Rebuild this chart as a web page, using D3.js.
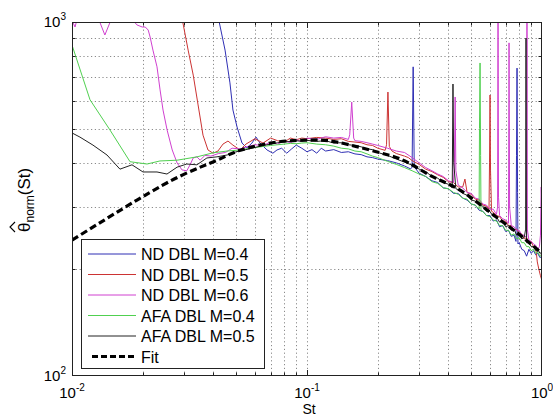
<!DOCTYPE html>
<html>
<head>
<meta charset="utf-8">
<script src="https://cdn.jsdelivr.net/npm/d3@7"></script>
<style>
html, body { margin: 0; padding: 0; background: #fff; }
svg { display: block; font-family: "Liberation Sans", Arial, sans-serif; }
</style>
</head>
<body>
<div id="chart"></div>
<script>
// ===== data =====
const stDomain = [0.01, 1];
const valDomain = [100, 1000];
const xMajor = [0.01, 0.1, 1];
const xMajorLabels = [["10", "-2"], ["10", "-1"], ["10", "0"]];
const yMajor = [100, 1000];
const yMajorLabels = [["10", "2"], ["10", "3"]];
const legendLabels = ["ND DBL M=0.4", "ND DBL M=0.5", "ND DBL M=0.6", "AFA DBL M=0.4", "AFA DBL M=0.5", "Fit"];

// [St, theta_norm]
const ndM04 = [
  [0.0410, 1150], [0.0423, 1000], [0.0448, 833], [0.0470, 673], [0.0484, 564], [0.0504, 505],
  [0.0529, 455], [0.0555, 441], [0.0583, 455], [0.0607, 473], [0.0631, 455], [0.0676, 435],
  [0.0716, 426], [0.0745, 435], [0.078, 440], [0.082, 426], [0.086, 438], [0.090, 449],
  [0.095, 440], [0.100, 430], [0.105, 436], [0.110, 426], [0.115, 440], [0.120, 432],
  [0.130, 436], [0.140, 428], [0.150, 430], [0.160, 424], [0.170, 422], [0.180, 416],
  [0.190, 414], [0.200, 410], [0.220, 406], [0.240, 400], [0.260, 392], [0.275, 385],
  [0.280, 388], [0.283, 747], [0.286, 390], [0.300, 374], [0.32, 366], [0.34, 356],
  [0.36, 352], [0.38, 340], [0.40, 338], [0.42, 328], [0.44, 328], [0.46, 318], [0.48, 314],
  [0.50, 306], [0.52, 304], [0.54, 294], [0.56, 292], [0.58, 284], [0.60, 284], [0.62, 274],
  [0.64, 276], [0.66, 264], [0.68, 266], [0.70, 256], [0.72, 258], [0.74, 248], [0.76, 250],
  [0.775, 240], [0.779, 420], [0.783, 741], [0.787, 330], [0.79, 236], [0.80, 238],
  [0.82, 228], [0.84, 226], [0.86, 218], [0.88, 228], [0.90, 222], [0.92, 226], [0.94, 220],
  [0.96, 222], [0.98, 216], [1.00, 218]
];

const ndM05 = [
  [0.0280, 1150], [0.0296, 1000], [0.0312, 833], [0.0328, 708], [0.0344, 583], [0.0361, 479],
  [0.0379, 435], [0.0398, 426], [0.0418, 432], [0.0439, 452], [0.0461, 461], [0.0484, 449],
  [0.0519, 435], [0.055, 452], [0.060, 468], [0.065, 455], [0.070, 470], [0.075, 462],
  [0.080, 458], [0.085, 470], [0.090, 465], [0.095, 470], [0.100, 468], [0.110, 472],
  [0.120, 470], [0.130, 466], [0.140, 468], [0.150, 460], [0.160, 458], [0.170, 456],
  [0.180, 450], [0.190, 448], [0.200, 440], [0.215, 434], [0.218, 450], [0.221, 634],
  [0.224, 445], [0.230, 432], [0.240, 425], [0.260, 418], [0.270, 414], [0.280, 406],
  [0.30, 396], [0.32, 384], [0.34, 378], [0.36, 370], [0.38, 364], [0.40, 354], [0.42, 352],
  [0.44, 342], [0.46, 342], [0.47, 360], [0.48, 330], [0.50, 326], [0.52, 316], [0.54, 314],
  [0.56, 304], [0.58, 302], [0.595, 296], [0.598, 400], [0.601, 622], [0.604, 380],
  [0.61, 292], [0.62, 290], [0.64, 284], [0.66, 282], [0.68, 274], [0.70, 274], [0.72, 266],
  [0.74, 266], [0.76, 258], [0.78, 260], [0.80, 252], [0.82, 252], [0.84, 244], [0.86, 246],
  [0.88, 238], [0.90, 240], [0.92, 232], [0.94, 232], [0.955, 210], [0.97, 200],
  [0.985, 192], [1.00, 186]
];

const ndM06 = [
  [0.0100, 1010], [0.0103, 968], [0.0106, 1040], [0.0115, 1150], [0.0129, 1030], [0.0138, 919],
  [0.0148, 1030], [0.0165, 1150], [0.0182, 1010], [0.0189, 981], [0.0199, 968], [0.0205, 968],
  [0.0211, 949], [0.0215, 907], [0.0221, 833], [0.0230, 747], [0.0237, 643], [0.0244, 564],
  [0.0254, 495], [0.0267, 435], [0.0280, 400], [0.0294, 382], [0.0308, 380], [0.0318, 395],
  [0.0328, 413], [0.0340, 416], [0.0351, 407], [0.0368, 420], [0.039, 418], [0.042, 425],
  [0.045, 428], [0.048, 440], [0.052, 438], [0.056, 445], [0.060, 450], [0.065, 448],
  [0.070, 458], [0.075, 452], [0.080, 462], [0.085, 456], [0.090, 465], [0.095, 460],
  [0.100, 470], [0.110, 466], [0.120, 474], [0.130, 470], [0.140, 472], [0.150, 466],
  [0.152, 480], [0.155, 594], [0.158, 470], [0.160, 462], [0.170, 460], [0.180, 456],
  [0.190, 452], [0.200, 448], [0.220, 440], [0.240, 432], [0.260, 428], [0.280, 414],
  [0.30, 400], [0.32, 388], [0.34, 380], [0.36, 372], [0.38, 366], [0.40, 356], [0.42, 352],
  [0.424, 400], [0.427, 614], [0.430, 380], [0.44, 346], [0.46, 340], [0.48, 330], [0.50, 328],
  [0.52, 318], [0.54, 316], [0.56, 306], [0.58, 304], [0.60, 296], [0.62, 296], [0.64, 286],
  [0.647, 300], [0.650, 1200], [0.653, 320], [0.66, 284], [0.68, 278], [0.70, 276],
  [0.72, 270], [0.724, 873], [0.728, 300], [0.74, 266], [0.76, 264], [0.78, 258], [0.80, 258],
  [0.82, 250], [0.84, 250], [0.86, 246], [0.863, 1200], [0.866, 260], [0.88, 242], [0.90, 240],
  [0.92, 236], [0.94, 234], [0.96, 228], [0.975, 232], [0.985, 250], [0.992, 342], [1.00, 300]
];

const afaM04 = [
  [0.0100, 861], [0.01193, 603], [0.01452, 495], [0.01766, 403], [0.02086, 397], [0.02367, 405],
  [0.02798, 407], [0.03404, 416], [0.0398, 427], [0.0457, 432], [0.0519, 435], [0.055, 438],
  [0.060, 442], [0.065, 445], [0.070, 448], [0.075, 450], [0.080, 452], [0.085, 454],
  [0.090, 453], [0.095, 455], [0.100, 456], [0.110, 452], [0.120, 450], [0.130, 446],
  [0.140, 440], [0.150, 438], [0.160, 432], [0.170, 430], [0.180, 424], [0.190, 418],
  [0.200, 414], [0.220, 404], [0.240, 396], [0.260, 388], [0.280, 380],
  [0.30, 372], [0.32, 366], [0.34, 354], [0.36, 350], [0.38, 340], [0.40, 338], [0.42, 330],
  [0.44, 326], [0.46, 318], [0.48, 316], [0.50, 306], [0.52, 304], [0.54, 296], [0.542, 500],
  [0.545, 766], [0.548, 420], [0.55, 292], [0.56, 292], [0.58, 284], [0.60, 282], [0.62, 276],
  [0.64, 274], [0.66, 266], [0.68, 266], [0.70, 258], [0.72, 258], [0.74, 250], [0.76, 252],
  [0.78, 244], [0.80, 246], [0.82, 238], [0.84, 238], [0.86, 232], [0.88, 232], [0.90, 226],
  [0.92, 228], [0.94, 222], [0.96, 224], [0.98, 218], [1.00, 220]
];

const afaM05 = [
  [0.0100, 486], [0.01081, 473], [0.01228, 449], [0.01409, 421], [0.0160, 384], [0.0180, 395],
  [0.02005, 377], [0.0230, 377], [0.02536, 372], [0.0280, 389], [0.0308, 397], [0.0340, 395],
  [0.0375, 413], [0.0414, 416], [0.0457, 421], [0.050, 430], [0.055, 436], [0.060, 442],
  [0.065, 448], [0.070, 452], [0.075, 456], [0.080, 458], [0.085, 460], [0.090, 462],
  [0.095, 460], [0.100, 463], [0.110, 460], [0.120, 462], [0.130, 455], [0.140, 456],
  [0.150, 450], [0.160, 448], [0.170, 444], [0.180, 438], [0.190, 436], [0.200, 428],
  [0.220, 420], [0.240, 410], [0.260, 402], [0.280, 394],
  [0.30, 384], [0.32, 378], [0.34, 366], [0.36, 362], [0.38, 352], [0.40, 348], [0.415, 340],
  [0.418, 668], [0.421, 400], [0.43, 338], [0.44, 336], [0.46, 328], [0.48, 324], [0.50, 314],
  [0.52, 312], [0.54, 304], [0.56, 302], [0.58, 292], [0.60, 292], [0.62, 282], [0.64, 282],
  [0.66, 272], [0.68, 274], [0.70, 264], [0.72, 266], [0.74, 258], [0.76, 260], [0.78, 250],
  [0.80, 252], [0.82, 244], [0.84, 246], [0.852, 260], [0.855, 901], [0.858, 300], [0.86, 238],
  [0.88, 238], [0.90, 232], [0.92, 232], [0.94, 226], [0.96, 228], [0.98, 222], [1.00, 224]
];

const fitSt = [0.01, 0.0189, 0.0296, 0.0414, 0.0519, 0.0745, 0.103, 0.134, 0.205, 0.267, 0.344, 0.448, 0.601, 0.783, 1.0];
const fitVal = [242, 314, 370, 407, 434, 458, 464, 458, 427, 402, 365, 335, 290, 254, 222];

// ===== styles =====
const seriesColors = ["#2f2fb4", "#cc3333", "#d040d0", "#50d050", "#222222"];
const W = 553, H = 418;
const M = { left: 72, right: 11, top: 22, bottom: 42 };

const svg = d3.select("#chart").append("svg")
  .attr("width", W).attr("height", H)
  .attr("viewBox", [0, 0, W, H]);

const x = d3.scaleLog().domain(stDomain).range([M.left, W - M.right]);
const y = d3.scaleLog().domain(valDomain).range([H - M.bottom, M.top]);
const x0 = x.range()[0], x1 = x.range()[1];
const y0 = y.range()[0], y1 = y.range()[1];

const isMajor = (t) => Math.abs(Math.log10(t) - Math.round(Math.log10(t))) < 1e-6;

// grid (dotted, at every major and minor tick)
const grid = svg.append("g")
  .attr("stroke", "#8a8a8a").attr("stroke-width", 1)
  .attr("stroke-dasharray", "1.2,2.6");
grid.selectAll("line.gx")
  .data(x.ticks().filter((t) => x(t) > x0 + 1 && x(t) < x1 - 1))
  .join("line").attr("class", "gx")
  .attr("x1", (d) => Math.round(x(d)) + 0.5).attr("x2", (d) => Math.round(x(d)) + 0.5)
  .attr("y1", y1).attr("y2", y0);
grid.selectAll("line.gy")
  .data(y.ticks().filter((t) => y(t) < y0 - 1 && y(t) > y1 + 1))
  .join("line").attr("class", "gy")
  .attr("y1", (d) => Math.round(y(d)) + 0.5).attr("y2", (d) => Math.round(y(d)) + 0.5)
  .attr("x1", x0).attr("x2", x1);

// data lines
svg.append("clipPath").attr("id", "plotclip")
  .append("rect").attr("x", x0).attr("y", y1).attr("width", x1 - x0).attr("height", y0 - y1);

const line = d3.line().x((d) => x(d[0])).y((d) => y(d[1]));
const plot = svg.append("g").attr("clip-path", "url(#plotclip)");
const allSeries = [ndM04, ndM05, ndM06, afaM04, afaM05];
allSeries.forEach((s, i) => {
  plot.append("path")
    .datum(s)
    .attr("fill", "none")
    .attr("stroke", seriesColors[i])
    .attr("stroke-width", 1)
    .attr("stroke-linejoin", "round")
    .attr("d", line);
});

const fitLine = d3.line().curve(d3.curveNatural).x((d) => x(d[0])).y((d) => y(d[1]));
plot.append("path")
  .datum(d3.zip(fitSt, fitVal))
  .attr("fill", "none")
  .attr("stroke", "#000")
  .attr("stroke-width", 3.2)
  .attr("stroke-dasharray", "7,3.5")
  .attr("d", fitLine);

// ticks on all four sides (inside), major longer
const ticks = svg.append("g").attr("stroke", "#222").attr("stroke-width", 1);
const xt = x.ticks().filter((t) => x(t) > x0 + 1 && x(t) < x1 - 1);
const yt = y.ticks().filter((t) => y(t) < y0 - 1 && y(t) > y1 + 1);
xt.forEach((t) => {
  const len = isMajor(t) ? 6 : 3.5;
  const px = Math.round(x(t)) + 0.5;
  ticks.append("line").attr("x1", px).attr("x2", px).attr("y1", y0).attr("y2", y0 - len);
  ticks.append("line").attr("x1", px).attr("x2", px).attr("y1", y1).attr("y2", y1 + len);
});
yt.forEach((t) => {
  const len = isMajor(t) ? 6 : 3.5;
  const py = Math.round(y(t)) + 0.5;
  ticks.append("line").attr("y1", py).attr("y2", py).attr("x1", x0).attr("x2", x0 + len);
  ticks.append("line").attr("y1", py).attr("y2", py).attr("x1", x1).attr("x2", x1 - len);
});

// frame
svg.append("rect")
  .attr("x", x0 + 0.5).attr("y", y1 + 0.5)
  .attr("width", x1 - x0 - 1).attr("height", y0 - y1 - 1)
  .attr("fill", "none").attr("stroke", "#222").attr("stroke-width", 1);

// tick labels
xMajor.forEach((v, i) => {
  const t = svg.append("text")
    .attr("x", x(v)).attr("y", y0 + 22)
    .attr("text-anchor", "middle").attr("font-size", 15).attr("fill", "#000");
  t.append("tspan").text(xMajorLabels[i][0]);
  t.append("tspan").attr("dy", -7).attr("font-size", 10).text(xMajorLabels[i][1]);
});
yMajor.forEach((v, i) => {
  const t = svg.append("text")
    .attr("x", x0 - 6).attr("y", y(v) + 5)
    .attr("text-anchor", "end").attr("font-size", 15).attr("fill", "#000");
  t.append("tspan").text(yMajorLabels[i][0]);
  t.append("tspan").attr("dy", -7).attr("font-size", 10).text(yMajorLabels[i][1]);
});

// axis titles
svg.append("text")
  .attr("x", (x0 + x1) / 2 + 2).attr("y", H - 4)
  .attr("text-anchor", "middle").attr("font-size", 14).text("St");

const yl = svg.append("g").attr("transform", `translate(30,${(y0 + y1) / 2 + 33}) rotate(-90)`);
const ylt = yl.append("text").attr("font-size", 17);
ylt.append("tspan").text("θ");
ylt.append("tspan").attr("font-size", 12).attr("dy", 4).text("norm");
ylt.append("tspan").attr("dy", -4).text("(St)");
yl.append("path").attr("d", "M0,-15L5,-20L10,-15")
  .attr("fill", "none").attr("stroke", "#000").attr("stroke-width", 1.1);

// legend
const lg = svg.append("g");
const lgX = 81, lgY = 239, lgW = 183, lgH = 129, rowH = 20.5;
lg.append("rect")
  .attr("x", lgX + 0.5).attr("y", lgY + 0.5).attr("width", lgW).attr("height", lgH)
  .attr("fill", "#fff").attr("stroke", "#222").attr("stroke-width", 1);
legendLabels.forEach((lab, i) => {
  const cy = lgY + 15 + i * rowH;
  const isFit = i === legendLabels.length - 1;
  lg.append("line")
    .attr("x1", isFit ? lgX + 11 : lgX + 7).attr("x2", lgX + 55)
    .attr("y1", cy).attr("y2", cy)
    .attr("stroke", isFit ? "#000" : seriesColors[i])
    .attr("stroke-width", isFit ? 3.2 : 1)
    .attr("stroke-dasharray", isFit ? "6,3" : null);
  lg.append("text")
    .attr("x", lgX + 60).attr("y", cy + 6)
    .attr("font-size", 16).attr("fill", "#000").text(lab);
});
</script>
</body>
</html>
